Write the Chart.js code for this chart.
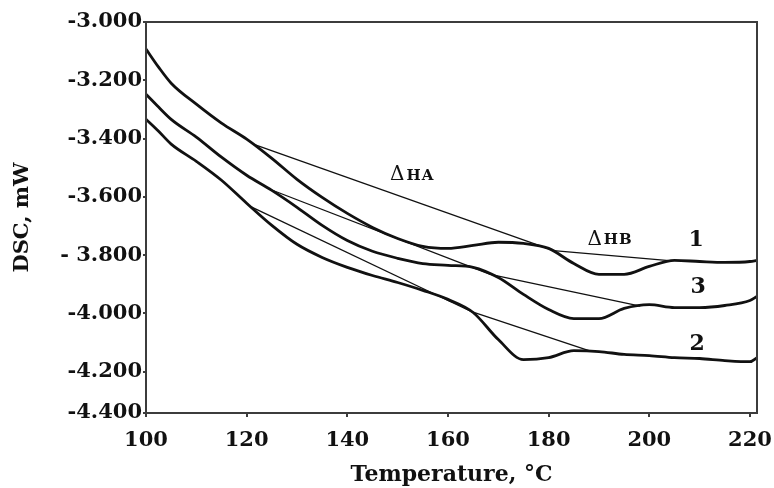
<!DOCTYPE html>
<html>
<head>
<meta charset="utf-8">
<script src="https://cdn.jsdelivr.net/npm/chart.js@4.4.0/dist/chart.umd.min.js"></script>
<style>
  html, body { margin: 0; padding: 0; background: #fff; }
  #wrap { width: 774px; height: 488px; }
</style>
</head>
<body>
<div id="wrap"><canvas id="dsc" width="774" height="488"></canvas></div>
<script>
// temperature grid (°C) shared by the three DSC traces
const temps = [100, 102.5, 105, 110, 115, 120, 125, 130, 135, 140, 145, 150, 155, 160,
  165, 170, 175, 180, 185, 190, 195, 200, 205, 210, 215, 220, 221.4];

// heat flow, mW
const curve1 = [-3.093, -3.155, -3.210, -3.282, -3.347, -3.402, -3.468, -3.540, -3.602, -3.657,
  -3.705, -3.743, -3.770, -3.777, -3.767, -3.756, -3.760, -3.777, -3.829, -3.866,
  -3.866, -3.839, -3.818, -3.822, -3.825, -3.822, -3.818];
const curve3 = [-3.248, -3.292, -3.334, -3.395, -3.464, -3.526, -3.578, -3.636, -3.698, -3.750,
  -3.787, -3.811, -3.829, -3.835, -3.842, -3.877, -3.935, -3.987, -4.018, -4.018,
  -3.983, -3.970, -3.980, -3.980, -3.973, -3.956, -3.942];
const curve2 = [-3.334, -3.375, -3.419, -3.478, -3.543, -3.622, -3.698, -3.763, -3.808, -3.842,
  -3.870, -3.894, -3.921, -3.952, -3.997, -4.090, -4.159, -4.152, -4.128, -4.131,
  -4.141, -4.145, -4.152, -4.155, -4.162, -4.166, -4.152];

// straight baselines under the peaks: [T, mW] end points
const base1A = [[121.3, -3.419], [181.0, -3.785]];
const base1B = [[181.0, -3.785], [204.5, -3.820]];
const base3A = [[124.6, -3.574], [168.4, -3.866]];
const base3B = [[168.4, -3.866], [198.2, -3.975]];
const base2A = [[120.7, -3.633], [164.4, -3.992]];
const base2B = [[164.4, -3.992], [188.3, -4.130]];

// axis ticks as printed (the scanned y axis is squeezed at the bottom)
const yTickValues = [-3.0, -3.2, -3.4, -3.6, -3.8, -4.0, -4.2, -4.342];
const yTickLabels = ['-3.000', '-3.200', '-3.400', '-3.600', '- 3.800', '-4.000', '-4.200', '-4.400'];
const xTickStep = 20;

// text marks inside the plot, in data units
const notes = [
  { text: 'HA', delta: true, t: 152.9, v: -3.526 },
  { text: 'HB', delta: true, t: 192.2, v: -3.746 },
  { text: '1', t: 209.3, v: -3.749 },
  { text: '3', t: 209.7, v: -3.911 },
  { text: '2', t: 209.5, v: -4.107 }
];

const FONT = "'DejaVu Serif', 'Liberation Serif', serif";
const INK = '#111';

const toPts = ys => temps.map((t, i) => ({ x: t, y: ys[i] }));
const segPts = seg => seg.map(p => ({ x: p[0], y: p[1] }));

const thick = (data) => ({
  data, borderColor: INK, borderWidth: 2.8, pointRadius: 0,
  cubicInterpolationMode: 'monotone', fill: false
});
const thin = (data) => ({
  data, borderColor: INK, borderWidth: 1.3, pointRadius: 0, tension: 0, fill: false
});

const framePlugin = {
  id: 'frame',
  afterDraw(chart) {
    const { ctx, chartArea: a, scales: { x, y } } = chart;
    ctx.save();
    ctx.strokeStyle = '#3c3c3c';
    ctx.lineWidth = 2;
    ctx.strokeRect(a.left, a.top, a.right - a.left, a.bottom - a.top);

    ctx.fillStyle = INK;
    ctx.textBaseline = 'middle';
    notes.forEach(n => {
      const px = x.getPixelForValue(n.t);
      const py = y.getPixelForValue(n.v);
      if (n.delta) {
        ctx.font = `20px ${FONT}`;
        const dw = ctx.measureText('\u0394').width;
        ctx.font = `bold 15px ${FONT}`;
        ctx.letterSpacing = '1px';
        const tw = ctx.measureText(n.text).width;
        const x0 = px - (dw + 2 + tw) / 2;
        ctx.textAlign = 'left';
        ctx.letterSpacing = '0px';
        ctx.font = `20px ${FONT}`;
        ctx.fillText('\u0394', x0, py);
        ctx.font = `bold 15px ${FONT}`;
        ctx.letterSpacing = '1px';
        ctx.fillText(n.text, x0 + dw + 2, py + 1);
        ctx.letterSpacing = '0px';
      } else {
        ctx.font = `bold 22px ${FONT}`;
        ctx.textAlign = 'center';
        ctx.fillText(n.text, px, py);
      }
    });
    ctx.restore();
  }
};

Chart.defaults.font.family = FONT;
Chart.defaults.color = INK;

new Chart(document.getElementById('dsc'), {
  type: 'line',
  data: {
    datasets: [
      thick(toPts(curve1)),
      thick(toPts(curve3)),
      thick(toPts(curve2)),
      thin(segPts(base1A)),
      thin(segPts(base1B)),
      thin(segPts(base3A)),
      thin(segPts(base3B)),
      thin(segPts(base2A)),
      thin(segPts(base2B))
    ]
  },
  options: {
    responsive: false,
    animation: false,
    devicePixelRatio: 1,
    layout: { padding: { top: 22, right: 17, left: 0, bottom: 0 } },
    plugins: { legend: { display: false }, tooltip: { enabled: false } },
    scales: {
      x: {
        type: 'linear',
        min: 100,
        max: 221.4,
        afterFit: s => { s.height = 75; s.paddingLeft = 0; s.paddingRight = 0; },
        border: { display: false },
        grid: { drawOnChartArea: false, tickLength: 4, color: '#3c3c3c', lineWidth: 2 },
        ticks: {
          stepSize: xTickStep, includeBounds: false, padding: 11,
          maxRotation: 0, font: { size: 21, weight: 'bold' }, color: INK
        },
        title: {
          display: true, text: 'Temperature, \u00B0C',
          font: { size: 22, weight: 'bold' }, color: INK, padding: { top: 2, bottom: 0 }
        }
      },
      y: {
        type: 'linear',
        min: -4.342,
        max: -3.0,
        afterFit: s => { s.width = 146; s.paddingTop = 0; s.paddingBottom = 0; },
        afterBuildTicks: s => { s.ticks = yTickValues.map(value => ({ value })); },
        border: { display: false },
        grid: { drawOnChartArea: false, tickLength: 3, color: '#3c3c3c', lineWidth: 2 },
        ticks: {
          padding: 1, font: { size: 21, weight: 'bold' }, color: INK,
          callback: (value, index) => yTickLabels[index]
        },
        title: {
          display: true, text: 'DSC, mW',
          font: { size: 21, weight: 'bold' }, color: INK, padding: { top: 10, bottom: 0 }
        }
      }
    }
  },
  plugins: [framePlugin]
});
</script>
</body>
</html>
